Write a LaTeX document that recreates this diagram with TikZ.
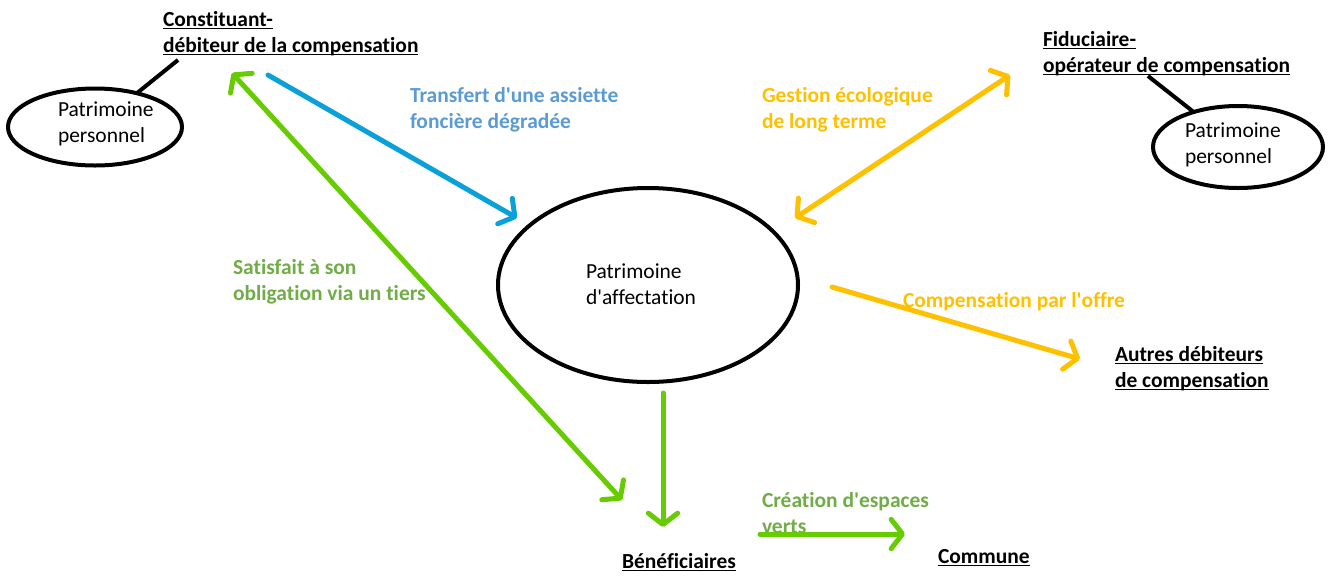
\documentclass[tikz,border=0pt]{standalone}
\usepackage{fontspec}
\setmainfont{Carlito}[Ligatures={CommonOff}]
\usetikzlibrary{arrows.meta,shapes.geometric}

\definecolor{flowblue}{RGB}{10,160,218}
\definecolor{flowgreen}{RGB}{102,204,0}
\definecolor{flowgold}{RGB}{255,192,0}
\definecolor{noteblue}{RGB}{91,155,213}
\definecolor{notegreen}{RGB}{112,173,71}

% underline at a fixed distance below the baseline
\newcommand\ulabel[1]{\setbox0\hbox{#1}\rlap{\rule[-2.6pt]{\wd0}{1.2pt}}\box0}
\newcommand\q{\textquotesingle}

\tikzset{vtip/.tip={Straight Barb[length=8.5pt,width=22pt,round]}}

\begin{document}
\begin{tikzpicture}[x=0.75pt,y=-0.75pt,
  every node/.style={inner sep=0pt,outer sep=0pt},
  txt/.style={anchor=base west,align=left,font=\fontsize{16.1}{19.5}\selectfont},
  actor/.style={txt,font=\fontsize{16.1}{19.5}\selectfont\bfseries},
  note/.style={txt,font=\fontsize{16.1}{19.5}\selectfont\bfseries},
  oval/.style={ellipse,draw=black,line width=3pt},
  link/.style={draw=black,line width=3pt},
  flow/.style={line width=3.75pt,line cap=round,-{vtip}},
  both/.style={line width=3.75pt,line cap=round,{vtip}-{vtip}}
]
\fill[white] (0,0) rectangle (1328,576);
\useasboundingbox (0,0) rectangle (1328,576);

% assets (text nodes are anchored on their last line)
\node[oval,minimum width=130.5pt,minimum height=57.75pt] (ppA) at (95,127) {};
\node[oval,minimum width=127.5pt,minimum height=61.5pt] (ppB) at (1238,147) {};
\node[oval,minimum width=225pt,minimum height=145.5pt] (pa) at (648,285) {};
\node[txt] (ppAt) at (58,142) {Patrimoine\\personnel};
\node[txt] (ppBt) at (1185,163) {Patrimoine\\personnel};
\node[txt] (pat) at (586,304) {Patrimoine\\d\q affectation};

% parties
\node[actor] (cons) at (163,52) {\ulabel{Constituant-}\\\ulabel{débiteur de la compensation}};
\node[actor] (fidu) at (1043,72) {\ulabel{Fiduciaire-}\\\ulabel{opérateur de compensation}};
\node[actor] (autr) at (1115,387) {\ulabel{Autres débiteurs}\\\ulabel{de compensation}};
\node[actor] (bene) at (622,568) {\ulabel{Bénéficiaires}};
\node[actor] (comm) at (938,563) {\ulabel{Commune}};

% owner links
\coordinate (consfoot) at (178,60);
\coordinate (fidufoot) at (1148,76);
\draw[link] (ppA) -- (consfoot);
\draw[link] (ppB) -- (fidufoot);

% flow end points
\coordinate (consA) at (268,75);
\coordinate (paA) at (517,218);
\coordinate (consB) at (232,73);
\coordinate (beneA) at (622,500);
\coordinate (paB) at (795,218);
\coordinate (fiduA) at (1010,75);
\coordinate (paC) at (832,287);
\coordinate (autrA) at (1080,359);
\coordinate (paD) at (663,393);
\coordinate (beneB) at (663,527);
\coordinate (beneC) at (760,534);
\coordinate (commA) at (905,534);

% flows
\draw[flow,flowblue] (consA) -- (paA);
\draw[both,flowgreen] (consB) -- (beneA);
\draw[both,flowgold] (paB) -- (fiduA);
\draw[flow,flowgold] (paC) -- (autrA);
\draw[flow,flowgreen] (paD) -- (beneB);

% flow labels
\node[note,noteblue] (n1) at (410,128) {Transfert d\q une assiette\\foncière dégradée};
\node[note,flowgold] (n2) at (762,128) {Gestion écologique\\de long terme};
\node[note,notegreen] (n3) at (233,300) {Satisfait à son\\obligation via un tiers};
\node[note,flowgold] (n4) at (903,307) {Compensation par l\q offre};
\node[note,notegreen] (n5) at (762,533) {Création d\q espaces\\verts};

\draw[flow,flowgreen] (beneC) -- (commA);
\end{tikzpicture}
\end{document}
